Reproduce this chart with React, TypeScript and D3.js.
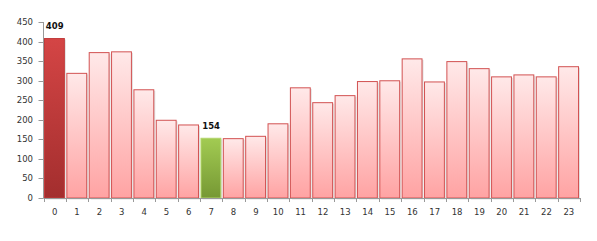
import React from "react";
import * as d3 from "d3";

const categories: string[] = Array.from({ length: 24 }, (_, i) => String(i));
const values: number[] = [409, 320, 373, 375, 278, 200, 188, 154, 153, 159, 191, 283, 245, 263, 299, 301, 357, 298, 350, 332, 311, 316, 311, 337];
const yTicks: number[] = [0, 50, 100, 150, 200, 250, 300, 350, 400, 450];
const maxIndex = 0;
const minIndex = 7;

const W = 597, H = 241;
const margin = { left: 43.5, right: 17, top: 22, bottom: 43 };

export default function App() {
  const x = d3.scaleBand<string>().domain(categories).range([margin.left, W - margin.right]).padding(0);
  const y = d3.scaleLinear().domain([0, 450]).range([H - margin.bottom, margin.top]);
  const bw = x.bandwidth();
  const y0 = y(0);
  const font = "'DejaVu Sans', Verdana, sans-serif";
  return (
    <svg width={W} height={H} style={{ position: "absolute", left: 0, top: 0 }}>
      <defs>
        <linearGradient id="gPink" x1="0" y1="0" x2="0" y2="1">
          <stop offset="0" stopColor="#ffe9e9" />
          <stop offset="1" stopColor="#ffa3a3" />
        </linearGradient>
        <linearGradient id="gRed" x1="0" y1="0" x2="0" y2="1">
          <stop offset="0" stopColor="#d44545" />
          <stop offset="1" stopColor="#a32e2e" />
        </linearGradient>
        <linearGradient id="gGreen" x1="0" y1="0" x2="0" y2="1">
          <stop offset="0" stopColor="#a2cb52" />
          <stop offset="1" stopColor="#769834" />
        </linearGradient>
      </defs>
      {/* shadows */}
      {values.map((v, i) => (
        <rect key={"s" + i} x={x(categories[i])! + 2.5} y={y(v) + 1.5} width={bw - 2.5} height={y0 - y(v)} fill="#000" opacity={0.12} />
      ))}
      {values.map((v, i) => {
        const fill = i === maxIndex ? "url(#gRed)" : i === minIndex ? "url(#gGreen)" : "url(#gPink)";
        const stroke = i === maxIndex ? "#c23b3b" : i === minIndex ? "#b3d56a" : "#d25252";
        return (
          <rect key={"b" + i} x={x(categories[i])! + 1} y={y(v) + 0.5} width={bw - 2.5} height={y0 - y(v) - 0.5} fill={fill} stroke={stroke} strokeWidth={1} />
        );
      })}
      {/* axes */}
      <line x1={margin.left} x2={margin.left} y1={y(450)} y2={y0} stroke="#999" />
      <line x1={margin.left} x2={W - margin.right} y1={y0 + 0.5} y2={y0 + 0.5} stroke="#999" />
      {yTicks.map((t) => (
        <g key={"yt" + t}>
          <line x1={margin.left - 5} x2={margin.left} y1={Math.round(y(t)) + 0.5} y2={Math.round(y(t)) + 0.5} stroke="#999" />
          <text x={33} y={y(t)} dy="0.35em" textAnchor="end" fontFamily={font} fontSize={8.5} fill="#333">{t}</text>
        </g>
      ))}
      {categories.map((c, i) => (
        <line key={"xt" + i} x1={Math.round(x(c)!) + 0.5} x2={Math.round(x(c)!) + 0.5} y1={y0} y2={y0 + 4} stroke="#999" />
      ))}
      <line x1={Math.round(W - margin.right) + 0.5} x2={Math.round(W - margin.right) + 0.5} y1={y0} y2={y0 + 4} stroke="#999" />
      {categories.map((c) => (
        <text key={"xl" + c} x={x(c)! + bw / 2} y={215} textAnchor="middle" fontFamily={font} fontSize={8.5} fill="#333">{c}</text>
      ))}
      {[maxIndex, minIndex].map((i) => (
        <text key={"lab" + i} x={x(categories[i])! + bw / 2} y={y(values[i]) - 9} textAnchor="middle" fontFamily={font} fontSize={8.5} fontWeight="bold" fill="#111">{values[i]}</text>
      ))}
    </svg>
  );
}
